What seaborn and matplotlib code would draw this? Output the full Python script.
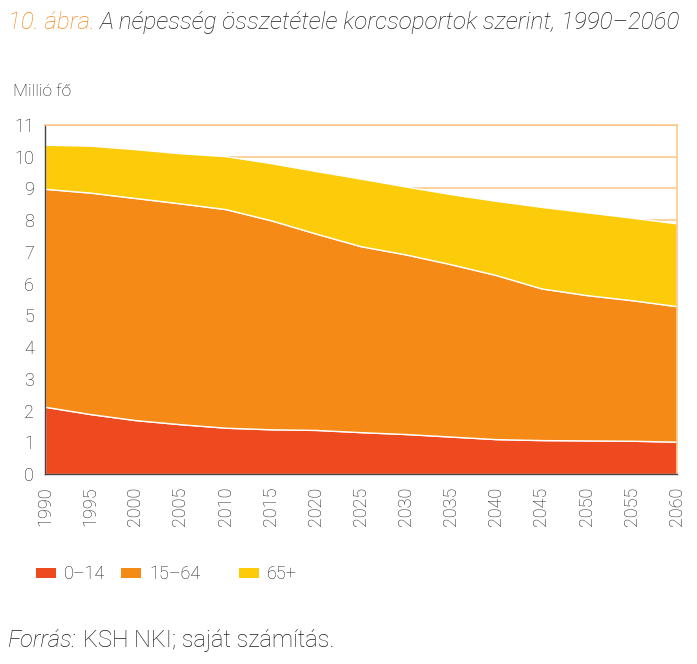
import matplotlib
matplotlib.use("Agg")
import matplotlib.pyplot as plt
import seaborn as sns
import pandas as pd
from matplotlib.patches import Patch

# -------------------------------
# Data (million people)
# -------------------------------
years = [1990, 1995, 2000, 2005, 2010, 2015, 2020, 2025,
         2030, 2035, 2040, 2045, 2050, 2055, 2060]
age_0_14 = [2.12, 1.89, 1.70, 1.57, 1.46, 1.41, 1.39, 1.32,
            1.26, 1.18, 1.10, 1.07, 1.06, 1.05, 1.02]
age_15_64 = [6.87, 6.98, 7.00, 6.96, 6.89, 6.59, 6.19, 5.86,
             5.66, 5.43, 5.17, 4.78, 4.58, 4.43, 4.27]
age_65 = [1.39, 1.48, 1.54, 1.58, 1.67, 1.80, 1.97, 2.13,
          2.14, 2.21, 2.34, 2.57, 2.61, 2.60, 2.61]
labels = ["0–14", "15–64", "65+"]
y_ticks = list(range(0, 12))
x_ticks = years

df = pd.DataFrame({"year": years, labels[0]: age_0_14,
                   labels[1]: age_15_64, labels[2]: age_65})

# -------------------------------
# Setup
# -------------------------------
sns.set_style("white")
plt.rcParams["font.family"] = ["Roboto", "DejaVu Sans"]
plt.rcParams["font.weight"] = "light"

colors = ["#EE4A1F", "#F58A16", "#FCCC0A"]
grid_col = "#FCC98E"
text_col = "#1e1e1e"

fig = plt.figure(figsize=(6.97, 6.64), dpi=100)
ax = fig.add_axes([0.0646, 0.2861, 0.9064, 0.5256])

for yv in y_ticks[1:]:
    ax.axhline(yv, color=grid_col, lw=1.2, zorder=0)

ax.stackplot(df["year"], df[labels[0]], df[labels[1]], df[labels[2]],
             colors=colors, zorder=2)

ax.set_xlim(1990, 2060)
ax.set_ylim(0, 11)
ax.set_xticks(x_ticks)
ax.set_xticklabels([str(y) for y in x_ticks], rotation=90)
ax.set_yticks(y_ticks)
ax.tick_params(axis="both", direction="out", length=6, width=1,
               color="#444444", labelcolor=text_col, labelsize=13)
ax.tick_params(axis="x", pad=3)
ax.tick_params(axis="y", pad=2)

for side in ["left", "bottom"]:
    ax.spines[side].set_color("#444444")
    ax.spines[side].set_linewidth(1)
for side in ["top", "right"]:
    ax.spines[side].set_color(grid_col)
    ax.spines[side].set_linewidth(1.2)

# -------------------------------
# Texts
# -------------------------------
renderer = fig.canvas.get_renderer()
W = fig.bbox.width


def chain(x, y, parts, size):
    # place text pieces one after another on a line
    for txt, col, style, gap in parts:
        t = fig.text(x, y, txt, color=col, fontsize=size, style=style,
                     va="center", ha="left")
        x = t.get_window_extent(renderer).x1 / W + gap


chain(0.011, 0.966, [("10. ábra.", "#F58A1F", "italic", 0.008),
                     ("A népesség összetétele korcsoportok szerint, 1990–2060",
                      text_col, "italic", 0)], 17.5)
fig.text(0.019, 0.862, "Millió fő", color=text_col, fontsize=12.5,
         va="center", ha="left")

# legend entries are not evenly spaced in the original
legend_x = [0.052, 0.174, 0.343]
for c, lab, lx in zip(colors, labels, legend_x):
    fig.legend([Patch(facecolor=c, edgecolor="none")], [lab],
               loc="center left", bbox_to_anchor=(lx, 0.135),
               frameon=False, fontsize=13, handlelength=1.1,
               handleheight=0.42, handletextpad=0.45, borderpad=0,
               borderaxespad=0, labelcolor=text_col)

chain(0.011, 0.035, [("Forrás:", text_col, "italic", 0.009),
                     ("KSH NKI; saját számítás.", text_col, "normal", 0)], 17)

fig.savefig("out.png", dpi=100)
